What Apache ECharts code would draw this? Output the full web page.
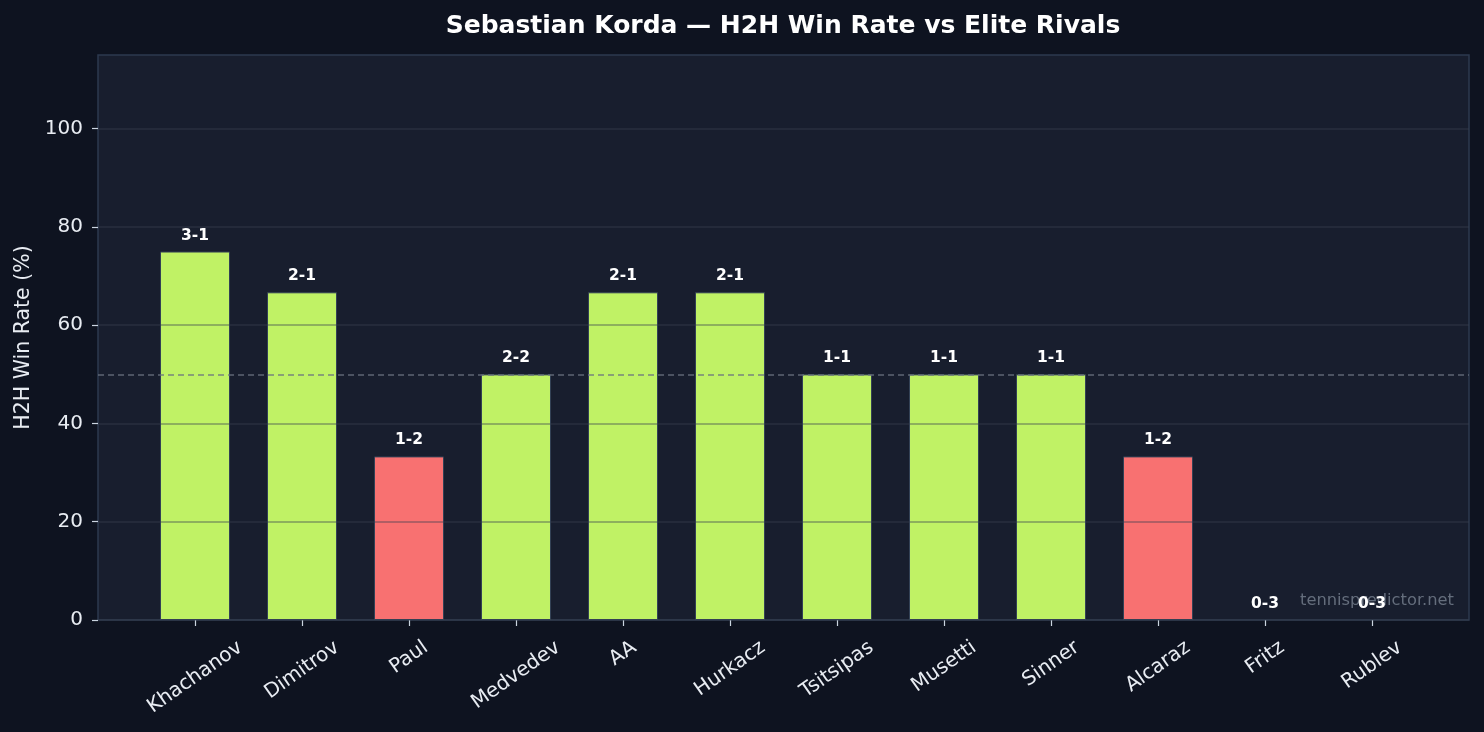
<!DOCTYPE html>
<html>
<head>
<meta charset="utf-8">
<script src="https://cdn.jsdelivr.net/npm/echarts@6/dist/echarts.min.js"></script>
<style>
  html, body { margin: 0; padding: 0; background: #0e1320; }
  #chart { width: 1484px; height: 732px; }
</style>
</head>
<body>
<div id="chart"></div>
<script>
// ---- data ----
const categories = ['Khachanov', 'Dimitrov', 'Paul', 'Medvedev', 'AA', 'Hurkacz', 'Tsitsipas', 'Musetti', 'Sinner', 'Alcaraz', 'Fritz', 'Rublev'];
const winRate = [75, 66.7, 33.3, 50, 66.7, 66.7, 50, 50, 50, 33.3, 0, 0];
const records = ['3-1', '2-1', '1-2', '2-2', '2-1', '2-1', '1-1', '1-1', '1-1', '1-2', '0-3', '0-3'];
const yTicks = [0, 20, 40, 60, 80, 100];
const threshold = [50];

// ---- style / layout ----
const FONT = 'DejaVu Sans';
const GREEN = '#c0f265';
const RED = '#f87171';
const TICK_FS = 20;
const ROT = 35;
const LABEL_MARGIN = 10;
const AXIS_Y = 620;           // pixel y of x-axis line
const LABEL_TOP = 636;        // top of rotated label bounding box

// emulate centered, top-anchored rotated tick labels (measure text)
const cv = document.createElement('canvas').getContext('2d');
cv.font = TICK_FS + 'px "' + FONT + '"';
const a = ROT * Math.PI / 180;
const H = TICK_FS * 1.17;
const xData = categories.map(function (c) {
  const L = cv.measureText(c).width;
  const d = (LABEL_TOP - (AXIS_Y + LABEL_MARGIN)) + (L * Math.sin(a) + H * Math.cos(a)) / 2;
  return { value: c, textStyle: {
    align: 'center', verticalAlign: 'top',
    fontSize: TICK_FS, color: '#e8ecf2', fontFamily: FONT,
    lineHeight: 2 * d * Math.cos(a),
    padding: [0, 2 * d * Math.sin(a), 0, 0] } };
});

const chart = echarts.init(document.getElementById('chart'), null, { renderer: 'canvas' });
chart.setOption({
  backgroundColor: '#0e1320',
  animation: false,
  textStyle: { fontFamily: FONT },
  title: {
    text: 'Sebastian Korda — H2H Win Rate vs Elite Rivals',
    left: 778,
    textAlign: 'center',
    top: 9,
    textStyle: { color: '#ffffff', fontSize: 25, fontWeight: 'bold', fontFamily: FONT }
  },
  grid: [
    { left: 98, right: 15, top: 55, bottom: 112, show: true, backgroundColor: '#181e2e',
      borderColor: '#2d3a4f', borderWidth: 1.5, outerBoundsMode: 'none', containLabel: false },
    { left: 141.5, right: 58.5, top: 55, bottom: 112, show: false, outerBoundsMode: 'none', containLabel: false }
  ],
  xAxis: [
    { gridIndex: 0, type: 'value', min: 0, max: 1, show: false },
    {
      gridIndex: 1, type: 'category', data: xData,
      axisLine: { show: false },
      axisTick: { show: true, alignWithLabel: true, length: 6, lineStyle: { color: '#cbd5e1', width: 1.2 } },
      axisLabel: { interval: 0, rotate: ROT, align: 'center', verticalAlign: 'top', margin: LABEL_MARGIN,
        fontSize: TICK_FS, color: '#e8ecf2', fontFamily: FONT },
      splitLine: { show: false }
    }
  ],
  yAxis: [
    {
      gridIndex: 0, type: 'value', min: 0, max: 115, interval: 20, z: 3,
      name: 'H2H Win Rate (%)', nameLocation: 'middle', nameGap: 61, nameRotate: 90,
      nameTextStyle: { color: '#e8ecf2', fontSize: 20.5, fontFamily: FONT },
      axisLine: { show: false },
      axisTick: { show: true, length: 6, customValues: yTicks, lineStyle: { color: '#cbd5e1', width: 1.2 } },
      axisLabel: { customValues: yTicks, margin: 15, fontSize: TICK_FS, color: '#e8ecf2', fontFamily: FONT },
      splitLine: { show: true, lineStyle: { color: 'rgba(55,65,81,0.5)', width: 1.5 } }
    },
    { gridIndex: 1, type: 'value', min: 0, max: 115, show: false, splitLine: { show: false } }
  ],
  graphic: [
    { type: 'text', right: 30, top: 593, z: 1, silent: true,
      style: { text: 'tennispredictor.net', fill: '#646d7c', font: '16.3px "DejaVu Sans"' } }
  ],
  series: [
    {
      type: 'bar', xAxisIndex: 1, yAxisIndex: 1, barWidth: 70, z: 2,
      data: winRate.map(function (v) {
        return { value: v, itemStyle: { color: v >= 50 ? GREEN : RED, borderWidth: v > 0 ? 1 : 0 } };
      }),
      itemStyle: { borderColor: '#334155', borderWidth: 1 },
      label: {
        show: true, position: 'top', distance: 8,
        formatter: function (p) { return records[p.dataIndex]; },
        color: '#ffffff', fontWeight: 'bold', fontSize: 15.5, fontFamily: FONT
      }
    },
    {
      type: 'line', xAxisIndex: 0, yAxisIndex: 0, data: [], z: 4,
      markLine: {
        silent: true, symbol: ['none', 'none'], label: { show: false },
        lineStyle: { color: 'rgba(107,114,128,0.85)', type: [6, 4], width: 1.5 },
        data: threshold.map(function (v) { return { yAxis: v }; })
      }
    }
  ]
});
</script>
</body>
</html>
